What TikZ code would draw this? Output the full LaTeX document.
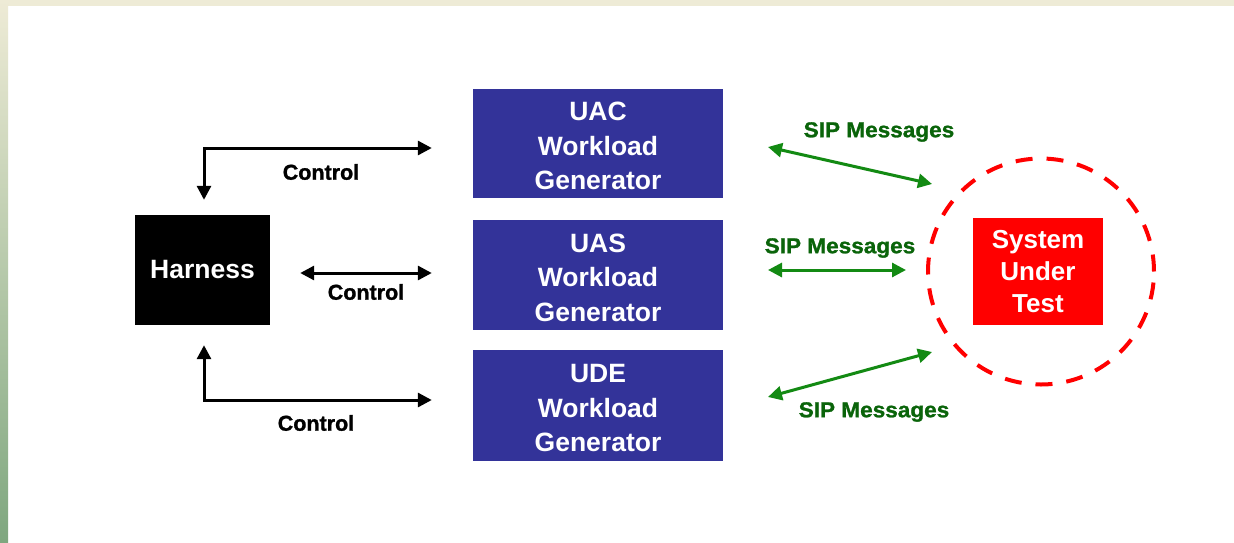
\documentclass[tikz,border=0pt]{standalone}
\usepackage{fontspec}
\setmainfont{Liberation Sans}
\newfontfamily\heavyfont[FakeBold=1.2]{Liberation Sans Bold}
\usetikzlibrary{arrows.meta,shapes.geometric}
\definecolor{boxblue}{HTML}{333399}
\definecolor{sipgreen}{HTML}{138A13}
\definecolor{siptext}{HTML}{0A640A}
\definecolor{beige}{HTML}{EEEBD6}
\definecolor{leafgreen}{HTML}{7FA77F}
\newcommand{\genlines}[1]{\raisebox{-11pt}[0pt][0pt]{\begin{tabular}{@{}c@{}}#1\end{tabular}}}
\tikzset{
  genbox/.style={draw=none,fill=boxblue,text=white,minimum width=250pt,
    font=\fontsize{26.5}{34.5}\selectfont\bfseries,inner sep=0pt},
  harnessbox/.style={fill=black,text=white,minimum width=135pt,minimum height=110pt,
    font=\fontsize{26.5}{33}\selectfont\bfseries,inner sep=0pt},
  sutbox/.style={fill=red,text=white,minimum width=130pt,minimum height=107pt,align=center,
    font=\fontsize{26}{32}\selectfont\bfseries,inner sep=0pt},
  ctrl/.style={line width=3pt,black,{Triangle[length=14pt,width=14pt]}-{Triangle[length=14pt,width=14pt]}},
  sip/.style={line width=3pt,sipgreen,{Triangle[length=14pt,width=14pt]}-{Triangle[length=14pt,width=14pt]}},
  ctrllabel/.style={font=\heavyfont\fontsize{21.5}{24}\selectfont,inner sep=0pt},
  siplabel/.style={font=\heavyfont\fontsize{21.5}{24}\selectfont,text=siptext,inner sep=0pt},
  ring/.style={circle,draw=red,line width=4pt,dash pattern=on 17pt off 14pt,minimum size=226pt,inner sep=0pt}
}
\begin{document}
\begin{tikzpicture}[x=1pt,y=-1pt]
\useasboundingbox (0,0) rectangle (1234,542);
\fill[white] (0,0) rectangle (1234,542);
\fill[beige] (0,0) rectangle (1234,6);
\shade[top color=beige,bottom color=leafgreen] (0,0) rectangle (8,542);

\node[harnessbox] (harness) at (202.5,270) {Harness};
\node[genbox,minimum height=109pt] (uac) at (598,143.5) {\genlines{UAC\\Workload\\Generator}};
\node[genbox,minimum height=110pt] (uas) at (598,275) {\genlines{UAS\\Workload\\Generator}};
\node[genbox,minimum height=111pt] (ude) at (598,405.5) {\genlines{UDE\\Workload\\Generator}};
\node[ring] (ring) at (1041,271.5) {};
\node[sutbox] (sut) at (1038,271.5) {System\\Under\\Test};

% control arrows
\draw[ctrl,shorten <=15pt,shorten >=41pt] ([xshift=1.5pt]harness.north) |- ([yshift=-4.5pt]uac.west);
\draw[ctrl,shorten <=30pt,shorten >=41pt] ([yshift=-3pt]harness.east) -- ([yshift=2pt]uas.west);
\draw[ctrl,shorten <=20pt,shorten >=41pt] ([xshift=1.5pt]harness.south) |- ([yshift=5.5pt]ude.west);
\node[ctrllabel] (cl1) at (321,172) {Control};
\node[ctrllabel] (cl2) at (366,292) {Control};
\node[ctrllabel] (cl3) at (316,423) {Control};

% SIP arrows
\coordinate (s1a) at (768,147); \coordinate (s1b) at (932,184);
\coordinate (s2a) at (768,270); \coordinate (s2b) at (906,270);
\coordinate (s3a) at (768,397); \coordinate (s3b) at (932,352);
\draw[sip] (s1a) -- (s1b);
\draw[sip] (s2a) -- (s2b);
\draw[sip] (s3a) -- (s3b);
\node[siplabel] (sl1) at (879,132) {\scalebox{1.05}[1]{SIP Messages}};
\node[siplabel] (sl2) at (840,248) {\scalebox{1.05}[1]{SIP Messages}};
\node[siplabel] (sl3) at (874,412) {\scalebox{1.05}[1]{SIP Messages}};
\end{tikzpicture}
\end{document}
